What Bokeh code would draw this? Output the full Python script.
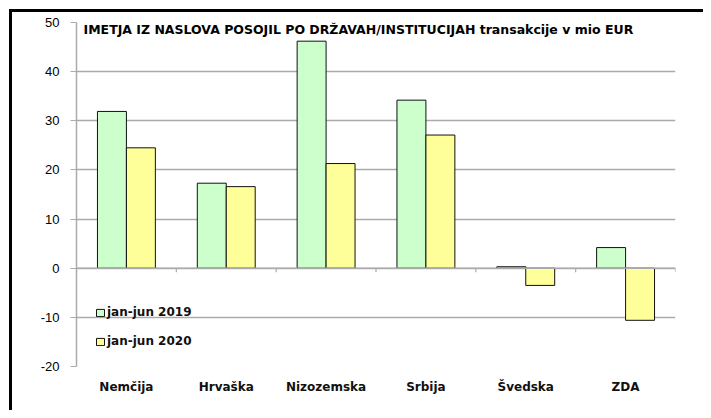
from bokeh.plotting import figure
from bokeh.models import (ColumnDataSource, Range1d, FixedTicker, Legend, LegendItem,
                          Label, Span)
from bokeh.embed import file_html
from bokeh.resources import INLINE

categories = ["Nemčija", "Hrvaška", "Nizozemska", "Srbija", "Švedska", "ZDA"]
v2019 = [31.9, 17.3, 46.2, 34.2, 0.3, 4.2]
v2020 = [24.5, 16.6, 21.3, 27.1, -3.5, -10.6]
series_names = ["jan-jun 2019", "jan-jun 2020"]
title_text = "IMETJA IZ NASLOVA POSOJIL PO DRŽAVAH/INSTITUCIJAH transakcije v mio EUR"
y_ticks = [-20, -10, 0, 10, 20, 30, 40, 50]
y_tick_labels = ["-20", "-10", "0", "10", "20", "30", "40", "50"]

GREEN = "#CCFFCC"
YELLOW = "#FFFF99"
GRID = "#ABABAB"
BAR_W = 0.29

n = len(categories)
centers = [i + 0.5 for i in range(n)]
src = ColumnDataSource(dict(
    x19=[c - BAR_W / 2 for c in centers],
    x20=[c + BAR_W / 2 for c in centers],
    v19=v2019, v20=v2020,
))

p = figure(width=703, height=410, output_backend="svg", toolbar_location=None,
           x_range=Range1d(0, n), y_range=Range1d(y_ticks[0], y_ticks[-1]),
           min_border_left=76, min_border_right=28, min_border_top=22,
           min_border_bottom=44)
p.outline_line_color = None
p.background_fill_color = "white"
p.border_fill_color = None
# black frame lines along the top and left edge of the picture
p.styles = {
    "background-color": "white",
    "background-image": "linear-gradient(black, black), linear-gradient(black, black)",
    "background-position": "9px 9px, 9px 9px",
    "background-size": "3px 401px, 694px 3px",
    "background-repeat": "no-repeat, no-repeat",
}

# grid
p.xgrid.visible = False
p.ygrid.ticker = FixedTicker(ticks=y_ticks)
p.ygrid.grid_line_color = GRID
p.ygrid.grid_line_width = 1.5

# y axis
p.yaxis.ticker = FixedTicker(ticks=y_ticks)
p.yaxis.major_label_overrides = {t: s for t, s in zip(y_ticks, y_tick_labels)}
p.yaxis.axis_line_color = GRID
p.yaxis.axis_line_width = 1.5
p.yaxis.major_tick_line_color = GRID
p.yaxis.major_tick_out = 6
p.yaxis.major_tick_in = 0
p.yaxis.minor_tick_line_color = None
p.yaxis.major_label_text_font = "Liberation Sans"
p.yaxis.major_label_text_font_size = "13px"
p.yaxis.major_label_text_color = "black"
p.yaxis.major_label_standoff = 11

# x axis: category labels only
p.xaxis.ticker = FixedTicker(ticks=centers)
p.xaxis.major_label_overrides = {c: cat for c, cat in zip(centers, categories)}
p.xaxis.axis_line_color = None
p.xaxis.major_tick_line_color = None
p.xaxis.minor_tick_line_color = None
p.xaxis.major_label_text_font = "DejaVu Sans"
p.xaxis.major_label_text_font_style = "bold"
p.xaxis.major_label_text_font_size = "12px"
p.xaxis.major_label_text_color = "#111111"
p.xaxis.major_label_standoff = 7

# zero line and category boundary ticks
p.add_layout(Span(location=0, dimension="width", line_color=GRID, line_width=1.5))
bounds = list(range(n + 1))
p.segment(x0=bounds, x1=bounds, y0=[0] * len(bounds), y1=[-0.8] * len(bounds),
          line_color=GRID, line_width=1.2)

r19 = p.vbar(x="x19", top="v19", bottom=0, width=BAR_W, source=src,
             fill_color=GREEN, line_color="#111111", line_width=1)
r20 = p.vbar(x="x20", top="v20", bottom=0, width=BAR_W, source=src,
             fill_color=YELLOW, line_color="#111111", line_width=1)

legend = Legend(items=[LegendItem(label=series_names[0], renderers=[r19]),
                       LegendItem(label=series_names[1], renderers=[r20])],
                location=(19, 18), orientation="vertical")
legend.background_fill_alpha = 0
legend.border_line_color = None
legend.padding = 0
legend.margin = 0
legend.spacing = 15
legend.glyph_width = 10
legend.glyph_height = 9
legend.label_height = 14
legend.label_standoff = 2
legend.label_text_font = "DejaVu Sans"
legend.label_text_font_style = "bold"
legend.label_text_font_size = "12px"
legend.label_text_color = "#111111"
p.add_layout(legend, "center")

p.add_layout(Label(x=0, y=y_ticks[-1], x_offset=7, y_offset=-7, text=title_text,
                   text_baseline="middle", text_font="DejaVu Sans",
                   text_font_style="bold", text_font_size="12.5px", text_color="black"))

open("out.html", "w").write(file_html(p, INLINE))
